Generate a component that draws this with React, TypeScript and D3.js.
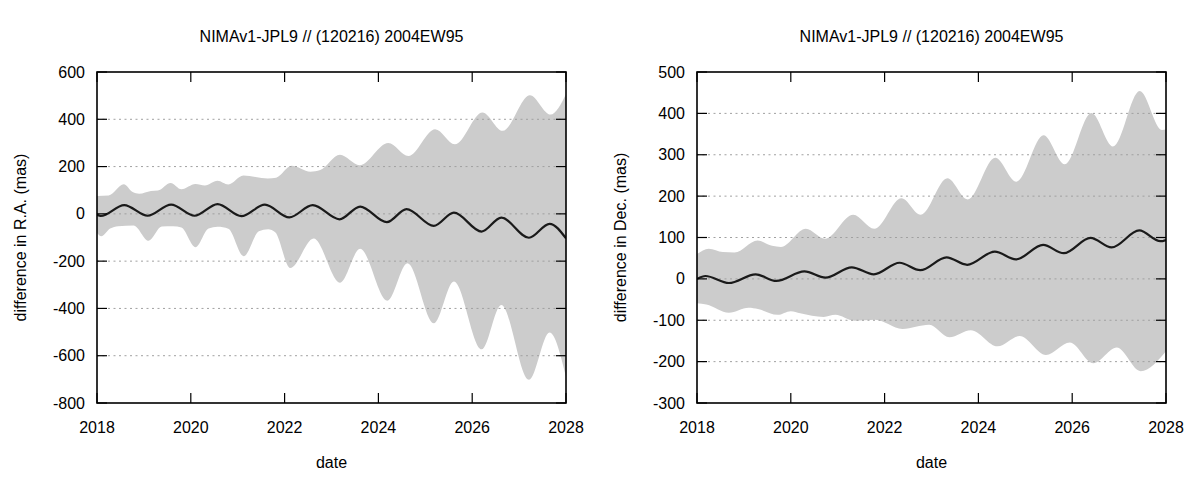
import React from "react";
import * as d3 from "d3";

// ---------- data ----------
const chartTitle = "NIMAv1-JPL9 // (120216) 2004EW95";
const xTickValues = [2018, 2020, 2022, 2024, 2026, 2028];
const raYTicks = [-800, -600, -400, -200, 0, 200, 400, 600];
const decYTicks = [-300, -200, -100, 0, 100, 200, 300, 400, 500];

// R.A. panel
const raLineYears = [2018.0, 2018.08, 2018.58, 2019.08, 2019.58, 2020.08, 2020.57, 2021.08, 2021.58, 2022.1, 2022.6, 2023.17, 2023.61, 2024.18, 2024.6, 2025.18, 2025.61, 2026.2, 2026.62, 2027.21, 2027.65, 2028.0];
const raLineValues = [-4, -9, 37, -8, 39, -8, 41, -10, 39, -15, 37, -23, 31, -35, 20, -51, 5, -75, -16, -101, -42, -104];
const raUpperYears = [2018.0, 2018.25, 2018.57, 2018.76, 2018.9, 2019.15, 2019.3, 2019.57, 2019.8, 2020.1, 2020.3, 2020.57, 2020.8, 2021.12, 2021.38, 2021.64, 2021.82, 2022.15, 2022.55, 2022.76, 2023.18, 2023.6, 2024.21, 2024.64, 2025.21, 2025.63, 2026.22, 2026.65, 2027.23, 2027.67, 2028.0];
const raUpperValues = [76, 78, 125, 92, 85, 97, 99, 131, 104, 126, 120, 140, 124, 162, 156, 150, 153, 203, 178, 185, 250, 206, 300, 245, 358, 294, 429, 351, 502, 420, 506];
const raLowerYears = [2018.0, 2018.09, 2018.28, 2018.45, 2018.78, 2019.1, 2019.38, 2019.62, 2019.8, 2020.1, 2020.38, 2020.57, 2020.8, 2021.13, 2021.45, 2021.65, 2021.8, 2022.12, 2022.62, 2023.18, 2023.61, 2024.19, 2024.62, 2025.18, 2025.61, 2026.2, 2026.62, 2027.21, 2027.65, 2028.0];
const raLowerValues = [-80, -95, -62, -52, -49, -114, -54, -52, -58, -141, -62, -55, -63, -179, -74, -65, -78, -229, -104, -291, -148, -367, -209, -463, -286, -573, -385, -702, -502, -688];

// Dec. panel
const decLineYears = [2018.0, 2018.18, 2018.68, 2019.25, 2019.69, 2020.29, 2020.74, 2021.3, 2021.77, 2022.32, 2022.76, 2023.32, 2023.76, 2024.35, 2024.8, 2025.38, 2025.82, 2026.39, 2026.84, 2027.43, 2027.88, 2028.0];
const decLineValues = [0, 7, -10, 11, -5, 18, 3, 28, 11, 39, 21, 52, 34, 66, 47, 82, 62, 99, 76, 117, 91, 94];
const decUpperYears = [2018.0, 2018.25, 2018.55, 2018.8, 2019.29, 2019.6, 2019.79, 2020.32, 2020.73, 2021.33, 2021.78, 2022.36, 2022.77, 2023.34, 2023.77, 2024.36, 2024.81, 2025.39, 2025.84, 2026.41, 2026.87, 2027.44, 2027.91, 2028.0];
const decUpperValues = [60, 73, 65, 64, 93, 80, 77, 121, 97, 155, 121, 195, 155, 243, 192, 293, 235, 347, 277, 401, 320, 454, 360, 361];
const decLowerYears = [2018.0, 2018.2, 2018.68, 2019.1, 2019.3, 2019.72, 2020.0, 2020.2, 2020.7, 2020.95, 2021.35, 2021.8, 2022.38, 2022.95, 2023.38, 2023.84, 2024.41, 2024.88, 2025.44, 2025.95, 2026.45, 2026.95, 2027.46, 2028.0];
const decLowerValues = [-59, -62, -82, -70, -73, -87, -78, -83, -92, -87, -101, -99, -121, -111, -141, -124, -163, -138, -184, -154, -204, -166, -223, -175];

// ---------- layout ----------
const W = 1200;
const H = 480;
const PLOT_W = 469;
const PLOT_TOP = 72;
const PLOT_BOTTOM = 403;
const FONT = "'Liberation Sans', Arial, Helvetica, sans-serif";

type PanelProps = {
  id: string;
  left: number;
  yDomain: [number, number];
  yTicks: number[];
  yLabel: string;
  lineYears: number[];
  lineValues: number[];
  upperYears: number[];
  upperValues: number[];
  lowerYears: number[];
  lowerValues: number[];
};

function Panel(p: PanelProps) {
  const x = d3.scaleLinear().domain([2018, 2028]).range([p.left, p.left + PLOT_W]);
  const y = d3.scaleLinear().domain(p.yDomain).range([PLOT_BOTTOM, PLOT_TOP]);
  const line = d3
    .line<[number, number]>()
    .x((d) => x(d[0]))
    .y((d) => y(d[1]))
    .curve(d3.curveMonotoneX);

  const upperPts: [number, number][] = p.upperYears.map((t, i) => [t, p.upperValues[i]]);
  const lowerPts: [number, number][] = p.lowerYears.map((t, i) => [t, p.lowerValues[i]]).reverse() as [number, number][];
  const upperPath = line(upperPts) || "";
  const lowerPath = line(lowerPts) || "";
  const bandPath = upperPath + "L" + lowerPath.slice(1) + "Z";
  const midPath = line(p.lineYears.map((t, i) => [t, p.lineValues[i]] as [number, number])) || "";

  const x0 = p.left;
  const x1 = p.left + PLOT_W;
  const cx = (x0 + x1) / 2;
  const tickLen = 10;
  const clipId = `clip-${p.id}`;

  return (
    <g>
      <defs>
        <clipPath id={clipId}>
          <rect x={x0} y={PLOT_TOP} width={PLOT_W} height={PLOT_BOTTOM - PLOT_TOP} />
        </clipPath>
      </defs>
      <text x={cx} y={41.7} textAnchor="middle" fontSize={16} fill="#000">
        {chartTitle}
      </text>
      <g clipPath={`url(#${clipId})`}>
        <path d={bandPath} fill="#cccccc" stroke="none" />
        {p.yTicks
          .filter((v) => v !== p.yDomain[0] && v !== p.yDomain[1])
          .map((v) => (
            <line key={`g${v}`} x1={x0} x2={x1} y1={y(v)} y2={y(v)} stroke="#a0a0a0" strokeWidth={1} strokeDasharray="2,3.5" />
          ))}
        <path d={midPath} fill="none" stroke="#1a1a1a" strokeWidth={2.2} strokeLinejoin="round" />
      </g>
      {/* y ticks */}
      {p.yTicks.map((v) => (
        <g key={`y${v}`}>
          <line x1={x0} x2={x0 + tickLen} y1={y(v)} y2={y(v)} stroke="#000" strokeWidth={1.2} />
          <line x1={x1} x2={x1 - tickLen} y1={y(v)} y2={y(v)} stroke="#000" strokeWidth={1.2} />
          <text x={x0 - 12} y={y(v) + 5.6} textAnchor="end" fontSize={16} fill="#000">
            {v}
          </text>
        </g>
      ))}
      {/* x ticks */}
      {xTickValues.map((v) => (
        <g key={`x${v}`}>
          <line x1={x(v)} x2={x(v)} y1={PLOT_BOTTOM} y2={PLOT_BOTTOM - tickLen} stroke="#000" strokeWidth={1.2} />
          <line x1={x(v)} x2={x(v)} y1={PLOT_TOP} y2={PLOT_TOP + tickLen} stroke="#000" strokeWidth={1.2} />
          <text x={x(v)} y={432.7} textAnchor="middle" fontSize={16} fill="#000">
            {v}
          </text>
        </g>
      ))}
      <rect x={x0} y={PLOT_TOP} width={PLOT_W} height={PLOT_BOTTOM - PLOT_TOP} fill="none" stroke="#000" strokeWidth={1.6} />
      <text x={cx} y={468} textAnchor="middle" fontSize={16} fill="#000">
        date
      </text>
      <text
        transform={`translate(${x0 - 71},${(PLOT_TOP + PLOT_BOTTOM) / 2}) rotate(-90)`}
        textAnchor="middle"
        fontSize={16}
        fill="#000"
      >
        {p.yLabel}
      </text>
    </g>
  );
}

export default function App() {
  return (
    <svg
      width={W}
      height={H}
      viewBox={`0 0 ${W} ${H}`}
      style={{ position: "absolute", left: 0, top: 0, background: "#fff", fontFamily: FONT }}
    >
      <rect x={0} y={0} width={W} height={H} fill="#fff" />
      <Panel
        id="ra"
        left={97}
        yDomain={[-800, 600]}
        yTicks={raYTicks}
        yLabel="difference in R.A. (mas)"
        lineYears={raLineYears}
        lineValues={raLineValues}
        upperYears={raUpperYears}
        upperValues={raUpperValues}
        lowerYears={raLowerYears}
        lowerValues={raLowerValues}
      />
      <Panel
        id="dec"
        left={697}
        yDomain={[-300, 500]}
        yTicks={decYTicks}
        yLabel="difference in Dec. (mas)"
        lineYears={decLineYears}
        lineValues={decLineValues}
        upperYears={decUpperYears}
        upperValues={decUpperValues}
        lowerYears={decLowerYears}
        lowerValues={decLowerValues}
      />
    </svg>
  );
}
